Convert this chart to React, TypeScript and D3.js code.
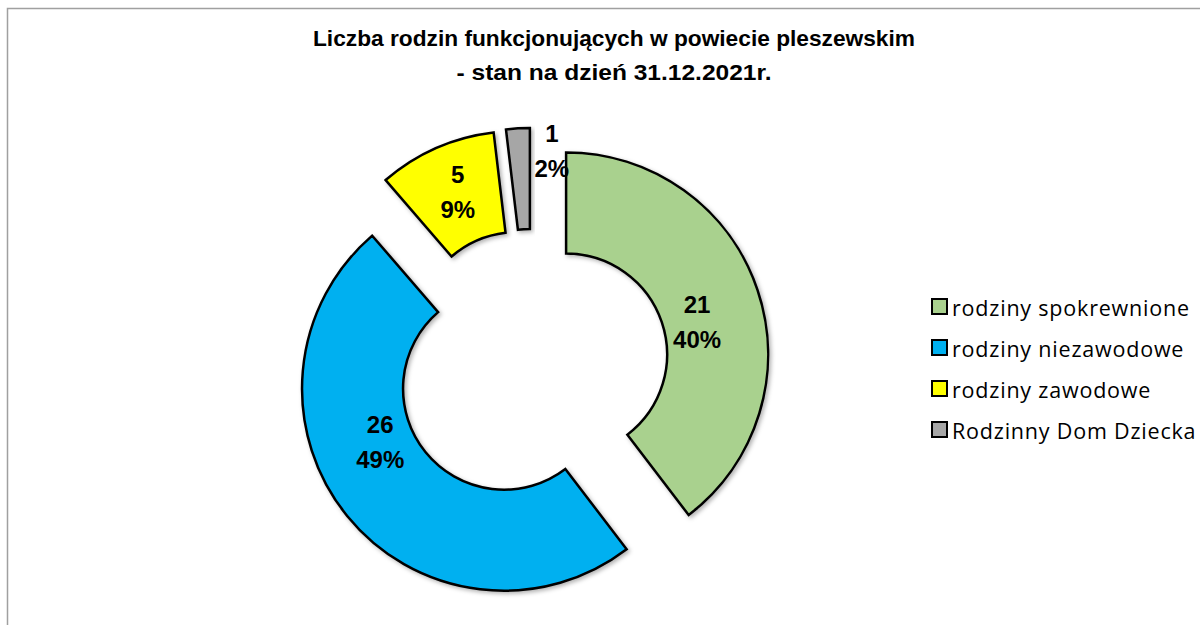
import { useEffect, useRef } from 'react';
import * as d3 from 'd3';

const categories = ['rodziny spokrewnione', 'rodziny niezawodowe', 'rodziny zawodowe', 'Rodzinny Dom Dziecka'];
const counts = [21, 26, 5, 1];
const colors = ['#a9d18e', '#00b0f0', '#ffff00', '#a6a6a6'];
const titleLines = ['Liczba rodzin funkcjonujących w powiecie pleszewskim', '- stan na dzień 31.12.2021r.'];

// manual label placement like in the original: [extra angle (deg), distance from slice centre]
const labelNudge: [number, number][] = [[4.7, 135], [15.6, 135], [0.8, 153], [10.4, 180]];
// title widths, to mimic the narrow Calibri look
const titleWidths = [602, 315];

const W = 1200;
const H = 625;

export default function App() {
  const svgRef = useRef<SVGSVGElement>(null);

  useEffect(() => {
    if (!svgRef.current) return;
    const svg = d3.select(svgRef.current);
    svg.selectAll('*').remove();

    const cx = 532, cy = 366;
    const outer = 202, inner = 101;
    const explode = 36;
    const total = d3.sum(counts);

    const defs = svg.append('defs');
    const f = defs.append('filter').attr('id', 'shadow').attr('x', '-20%').attr('y', '-20%').attr('width', '140%').attr('height', '140%');
    f.append('feDropShadow')
      .attr('dx', 2).attr('dy', 2).attr('stdDeviation', 2)
      .attr('flood-color', '#000').attr('flood-opacity', 0.3);

    // chart frame
    svg.append('rect')
      .attr('x', 7.5).attr('y', 8.5)
      .attr('width', W + 20).attr('height', H + 20)
      .attr('fill', '#fff')
      .attr('stroke', '#a0a0a0')
      .attr('stroke-width', 1.5);

    // title
    titleLines.forEach((t, i) => {
      svg.append('text')
        .attr('x', 614)
        .attr('y', 46 + i * 34)
        .attr('text-anchor', 'middle')
        .attr('font-family', '"Liberation Sans", Arial, sans-serif')
        .attr('font-weight', 'bold')
        .attr('font-size', 22)
        .attr('fill', '#000')
        .attr('textLength', titleWidths[i])
        .attr('lengthAdjust', 'spacingAndGlyphs')
        .text(t);
    });

    const pie = d3.pie<number>().sort(null).value(d => d);
    const arcs = pie(counts);
    const arc = d3.arc<d3.PieArcDatum<number>>().innerRadius(inner).outerRadius(outer);

    const g = svg.append('g').attr('transform', `translate(${cx},${cy})`);

    const slices = g.selectAll('g.slice')
      .data(arcs)
      .enter()
      .append('g')
      .attr('class', 'slice')
      .attr('transform', d => {
        const a = (d.startAngle + d.endAngle) / 2;
        return `translate(${explode * Math.sin(a)},${-explode * Math.cos(a)})`;
      });

    slices.append('path')
      .attr('d', arc)
      .attr('fill', (d, i) => colors[i])
      .attr('stroke', '#000')
      .attr('stroke-width', 2.5)
      .attr('stroke-linejoin', 'miter')
      .attr('filter', 'url(#shadow)');

    const labels = slices.append('text')
      .attr('text-anchor', 'middle')
      .attr('font-family', '"Liberation Sans", Arial, sans-serif')
      .attr('font-weight', 'bold')
      .attr('font-size', 24)
      .attr('fill', '#000')
      .attr('transform', (d, i) => {
        const a = (d.startAngle + d.endAngle) / 2 + (labelNudge[i][0] * Math.PI) / 180;
        const r = labelNudge[i][1];
        return `translate(${r * Math.sin(a)},${-r * Math.cos(a)})`;
      });

    labels.append('tspan')
      .attr('x', 0)
      .attr('y', -9)
      .text(d => `${d.data}`);
    labels.append('tspan')
      .attr('x', 0)
      .attr('y', 26)
      .text(d => `${Math.round((d.data / total) * 100)}%`);

    // legend
    const legend = svg.append('g').attr('transform', 'translate(932, 299)');
    const rows = legend.selectAll('g')
      .data(categories)
      .enter()
      .append('g')
      .attr('transform', (d, i) => `translate(0, ${i * 41})`);

    rows.append('rect')
      .attr('x', 0).attr('y', 0)
      .attr('width', 15).attr('height', 15)
      .attr('fill', (d, i) => colors[i])
      .attr('stroke', '#000')
      .attr('stroke-width', 2);

    rows.append('text')
      .attr('x', 20)
      .attr('y', 8)
      .attr('dominant-baseline', 'central')
      .attr('font-family', '"Open Sans", "Liberation Sans", sans-serif')
      .attr('font-size', 21.5)
      .attr('letter-spacing', 0.8)
      .attr('fill', '#000')
      .text(d => d);
  }, []);

  return (
    <svg
      ref={svgRef}
      width={W}
      height={H}
      viewBox={`0 0 ${W} ${H}`}
      style={{ position: 'absolute', left: 0, top: 0, background: '#fff' }}
    />
  );
}
